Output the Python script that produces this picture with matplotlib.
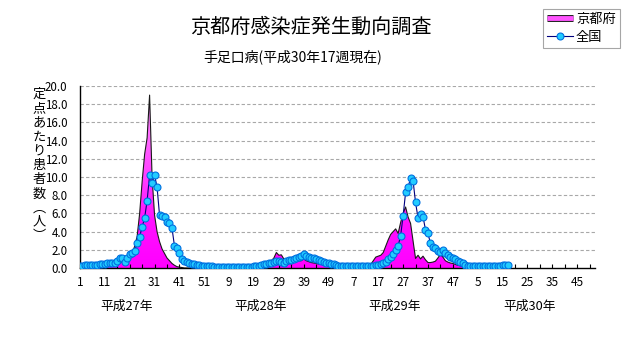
import numpy as np
import matplotlib
matplotlib.use("Agg")
import matplotlib.pyplot as plt
from matplotlib.colors import LinearSegmentedColormap
from matplotlib.lines import Line2D
import matplotlib.patheffects as pe

plt.rcParams['font.family'] = ['Noto Sans CJK JP', 'DejaVu Sans']

# ---------------- data ----------------
title = "京都府感染症発生動向調査"
subtitle = "手足口病(平成30年17週現在)"
ylabel_chars = ["定", "点", "あ", "た", "り", "患", "者", "数", "︵", "人", "︶"]
legend_labels = ["京都府", "全国"]
year_labels = ["平成27年", "平成28年", "平成29年", "平成30年"]
week_tick_labels = ["1", "11", "21", "31", "41", "51", "9", "19", "29", "39", "49",
                    "7", "17", "27", "37", "47", "5", "15", "25", "35", "45"]
y_ticks = [0, 2, 4, 6, 8, 10, 12, 14, 16, 18, 20]
total_weeks = 208  # 4 years x 52 weeks on the category axis

kyoto_2015 = [0.1, 0.1, 0.15, 0.1, 0.15, 0.1, 0.15, 0.2, 0.2, 0.25,
              0.2, 0.3, 0.3, 0.35, 0.4, 0.5, 0.6, 0.7, 0.9, 1.1,
              1.3, 1.6, 2.4, 3.5, 6.0, 9.5, 12.5, 14.3, 19.0, 10.0,
              5.8, 4.0, 2.9, 2.1, 1.6, 1.1, 0.8, 0.5, 0.3, 0.15,
              0.1, 0.05, 0.0, 0.0, 0.0, 0.0, 0.0, 0.0, 0.0, 0.0, 0.0, 0.0]
kyoto_2016 = [0.05, 0.05, 0.05, 0.05, 0.05, 0.05, 0.05, 0.05, 0.05, 0.05,
              0.05, 0.05, 0.05, 0.05, 0.1, 0.1, 0.1, 0.1, 0.1,
              0.15, 0.2, 0.3, 0.4, 0.5, 0.6, 0.8, 1.1, 1.7, 1.4,
              1.45, 1.0, 0.6, 0.7, 0.9, 1.25, 0.9, 0.8, 0.8, 1.0,
              0.8, 0.7, 0.6, 0.55, 0.5, 0.45, 0.4, 0.35, 0.3, 0.25,
              0.2, 0.15, 0.1]
kyoto_2017 = [0.05, 0.05, 0.05, 0.05, 0.05, 0.05, 0.05, 0.05, 0.05, 0.05, 0.05, 0.05,
              0.2, 0.4, 0.8, 1.2, 1.3, 1.4, 1.7, 2.4, 3.1, 3.7,
              4.0, 4.3, 3.8, 5.0, 6.0, 6.7, 5.6, 4.9, 3.0, 1.05,
              1.4, 1.0, 1.3, 0.9, 0.6, 0.6, 0.65, 0.75, 1.1, 1.5,
              1.2, 0.8, 0.65, 0.55, 0.5, 0.4, 0.3, 0.25, 0.15, 0.1]
kyoto_2018 = [0.02, 0.02, 0.02, 0.02, 0.02, 0.02, 0.02, 0.02, 0.02, 0.02,
              0.02, 0.02, 0.02, 0.02, 0.02, 0.02, 0.02]

national_2015 = [0.2, 0.25, 0.3, 0.3, 0.35, 0.3, 0.3, 0.35, 0.4, 0.4,
                 0.45, 0.5, 0.5, 0.55, 0.6, 0.8, 1.05, 1.15, 0.7, 1.05,
                 1.5, 1.7, 1.9, 2.7, 3.45, 4.5, 5.5, 7.4, 10.2, 9.3,
                 10.2, 8.9, 5.8, 5.7, 5.6, 5.1, 4.9, 4.4, 2.45, 2.2,
                 1.7, 1.0, 0.8, 0.65, 0.55, 0.45, 0.4, 0.35, 0.3, 0.25, 0.2, 0.2]
national_2016 = [0.2, 0.2, 0.15, 0.15, 0.15, 0.15, 0.15, 0.15, 0.15, 0.15,
                 0.15, 0.15, 0.15, 0.15, 0.15, 0.15, 0.15, 0.15, 0.2,
                 0.2, 0.25, 0.3, 0.4, 0.45, 0.55, 0.6, 0.7, 0.75, 0.75,
                 0.7, 0.6, 0.75, 0.85, 0.9, 1.0, 1.1, 1.2, 1.35, 1.5,
                 1.3, 1.25, 1.15, 1.05, 0.95, 0.85, 0.75, 0.7, 0.6, 0.5,
                 0.45, 0.4, 0.35]
national_2017 = [0.25, 0.25, 0.25, 0.2, 0.2, 0.2, 0.2, 0.2, 0.2, 0.2,
                 0.2, 0.2, 0.25, 0.25, 0.25,
                 0.3, 0.35, 0.45, 0.55, 0.7, 0.95, 1.2, 1.55, 2.0, 2.45,
                 3.55, 5.75, 8.3, 8.9, 9.85, 9.6, 7.2, 5.5, 5.9, 5.65,
                 4.2, 3.8, 2.7, 2.35, 2.2, 1.9, 1.8, 2.0, 1.6, 1.4,
                 1.25, 1.15, 0.95, 0.8, 0.65, 0.5, 0.35]
national_2018 = [0.25, 0.2, 0.2, 0.2, 0.2, 0.2, 0.2, 0.2, 0.2, 0.2,
                 0.2, 0.2, 0.2, 0.25, 0.3, 0.3, 0.3]

kyoto = np.array(kyoto_2015 + kyoto_2016 + kyoto_2017 + kyoto_2018)
national = np.array(national_2015 + national_2016 + national_2017 + national_2018)
xk = np.arange(len(kyoto))
xn = np.arange(len(national))

# ---------------- figure ----------------
W, H = 631, 347
fig = plt.figure(figsize=(W / 100, H / 100), dpi=100)
fig.patch.set_facecolor("white")

ax = fig.add_axes([80 / W, (H - 268) / H, 515 / W, 182 / H])
xmax = total_weeks - 0.8

# gridlines (behind everything)
for yv in y_ticks[1:]:
    ax.axhline(yv, color="#A8A8A8", lw=0.8, ls=(0, (3, 2)), zorder=0.5)

# Kyoto area with pink gradient
poly = ax.fill_between(xk, kyoto, 0, facecolor="none", edgecolor="none", zorder=1)
cmap = LinearSegmentedColormap.from_list(
    "pinkgrad", [(0.0, "#FF00FF"), (0.25, "#FF10FF"), (1.0, "#FF9CFF")])
grad = np.linspace(0, 1, 256).reshape(-1, 1)
im = ax.imshow(grad, extent=[0, xmax, 0, 20], origin="lower", aspect="auto",
               cmap=cmap, zorder=1.2, interpolation="bilinear")
im.set_clip_path(poly.get_paths()[0], ax.transData)
ax.plot(xk, kyoto, color="#1a1a1a", lw=0.8, zorder=2)

# national line with markers
ax.plot(xn, national, color="#000080", lw=0.8, marker="o", ms=5,
        mfc="#22CCFF", mec="#0070E0", mew=0.8, zorder=4)

ax.set_xlim(0, xmax)
ax.set_ylim(0, 20)

for s in ["top", "right"]:
    ax.spines[s].set_visible(False)
for s in ["left", "bottom"]:
    ax.spines[s].set_color("black")
    ax.spines[s].set_linewidth(1.0)

ax.set_yticks(y_ticks)
ax.set_yticklabels([f"{v:.1f}" for v in y_ticks])
ax.tick_params(axis="y", length=0, pad=9, labelsize=8.3)

ax.set_xticks(np.arange(0, total_weeks, 10))
ax.set_xticklabels(week_tick_labels)
ax.set_xticks(np.arange(5, total_weeks, 10), minor=True)
ax.tick_params(axis="x", which="both", direction="in", length=3, width=0.8,
               pad=6, labelsize=8.5)

# vertical y label (one stacked text)
fig.text(39 / W, 1 - 88 / H, "\n".join(ylabel_chars), ha="center", va="top",
         fontsize=9.5, linespacing=1.12)

# titles
fig.text(311 / W, 1 - 27 / H, title, ha="center", va="center", fontsize=14.5)
fig.text(203 / W, 1 - 57 / H, subtitle, ha="left", va="center", fontsize=10)

# year labels
for xp, lab in zip([127, 261, 395, 530], year_labels):
    fig.text(xp / W, 1 - 306 / H, lab, ha="center", va="center", fontsize=9.2)

# legend
h_kyoto = Line2D([], [], color="#FF55FF", lw=3.5, solid_capstyle="butt",
                 path_effects=[pe.Stroke(linewidth=5, foreground="#202020"), pe.Normal()])
h_nat = Line2D([], [], color="#000080", lw=0.8, marker="o", ms=5,
               mfc="#22CCFF", mec="#0070E0", mew=0.8)
leg = fig.legend([h_kyoto, h_nat], legend_labels, loc="upper left",
                 bbox_to_anchor=(543 / W, 1 - 9 / H), frameon=True, fancybox=False,
                 edgecolor="#909090", fontsize=9.5, handlelength=2.0,
                 borderpad=0.3, labelspacing=0.35, handletextpad=0.2,
                 borderaxespad=0)
leg.get_frame().set_linewidth(0.8)

fig.savefig("out.png", dpi=100, facecolor="white")
